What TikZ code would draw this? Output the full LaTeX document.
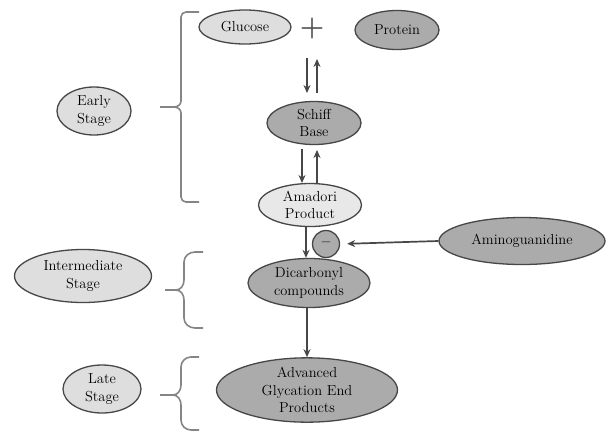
\documentclass[tikz,border=0pt]{standalone}
\usetikzlibrary{shapes.geometric,arrows.meta}
\definecolor{lightfill}{HTML}{DEDEDE}
\definecolor{amafill}{HTML}{E8E8E8}
\definecolor{darkfill}{HTML}{ABABAB}
\definecolor{edge}{HTML}{474747}
\definecolor{bracecol}{HTML}{858585}
\tikzset{
  blob/.style={ellipse, draw=edge, line width=1.3pt, inner sep=0pt, align=center,
    font=\fontsize{14.5}{17.5}\selectfont, text=black},
  light/.style={blob, fill=lightfill},
  dark/.style={blob, fill=darkfill},
  flow/.style={draw=edge, line width=1.7pt, -{Stealth[length=8pt,width=7pt]}},
  bracket/.style={draw=bracecol, line width=1.6pt, line join=round},
}
\begin{document}
\begin{tikzpicture}[x=1pt,y=-1pt]
\useasboundingbox[fill=white] (0,0) rectangle (608,432);
% nodes
\node[light, minimum width=92pt, minimum height=34pt] (glucose) at (245,27) {Glucose};
\node[font=\bfseries\fontsize{28}{28}\selectfont, text=edge, inner sep=0pt] (plus) at (312,29) {+};
\node[dark, minimum width=84pt, minimum height=39pt] (protein) at (397,30) {Protein};
\node[dark, minimum width=94pt, minimum height=43pt] (schiff) at (314,123) {Schiff\\Base};
\node[light, fill=amafill, minimum width=103pt, minimum height=43pt] (amadori) at (310,205) {Amadori\\Product};
\node[circle, draw=edge, line width=1.3pt, fill=darkfill, minimum size=27pt, inner sep=0pt,
  font=\bfseries\fontsize{15}{15}\selectfont] (minus) at (326,244) {--};
\node[dark, minimum width=166pt, minimum height=47pt] (amino) at (522,241) {Aminoguanidine};
\node[dark, minimum width=122pt, minimum height=49pt] (dicarb) at (309,283) {Dicarbonyl\\compounds};
\node[dark, minimum width=181pt, minimum height=60pt] (age) at (307,390) {Advanced\\Glycation End\\Products};
\node[light, minimum width=74pt, minimum height=48pt] (early) at (94,111) {Early\\Stage};
\node[light, minimum width=137pt, minimum height=53pt] (inter) at (83,276) {Intermediate\\Stage};
\node[light, minimum width=78pt, minimum height=48pt] (late) at (102,389) {Late\\Stage};
% free ends of the equilibrium arrows
\coordinate (a1s) at (307,58); \coordinate (a1e) at (307,93);
\coordinate (a2s) at (317,93); \coordinate (a2e) at (317,59);
\coordinate (b1s) at (302,149); \coordinate (b1e) at (302,183);
\coordinate (b2s) at (317,183); \coordinate (b2e) at (317,150);
\draw[flow] (a1s) -- (a1e);
\draw[flow] (a2s) -- (a2e);
\draw[flow] (b1s) -- (b1e);
\draw[flow] (b2s) -- (b2e);
\draw[flow] ([xshift=-4pt]amadori.south) -- ([xshift=-3pt]dicarb.north);
\draw[flow, shorten >=7pt] (amino.west) -- (minus.east);
\draw[flow] ([xshift=-2pt]dicarb.south) -- (age.north);
% braces
\draw[bracket] (199,12) -- (186,12) to[out=180,in=90] (181,17) -- (181,101)
  to[out=-90,in=0] (174,107) -- (160,107) (174,107) to[out=0,in=90] (181,113)
  -- (181,197) to[out=-90,in=180] (186,202) -- (199,202);
\draw[bracket] (203,252) -- (195,252) to[out=180,in=90] (184,262) -- (184,280)
  to[out=-90,in=0] (176,290) -- (165,290) (176,290) to[out=0,in=90] (184,300)
  -- (184,318) to[out=-90,in=180] (195,328) -- (203,328);
\draw[bracket] (199,357) -- (191,357) to[out=180,in=90] (181,367) -- (181,385)
  to[out=-90,in=0] (173,395) -- (160,395) (173,395) to[out=0,in=90] (181,405)
  -- (181,420) to[out=-90,in=180] (191,430) -- (199,430);
\end{tikzpicture}
\end{document}
